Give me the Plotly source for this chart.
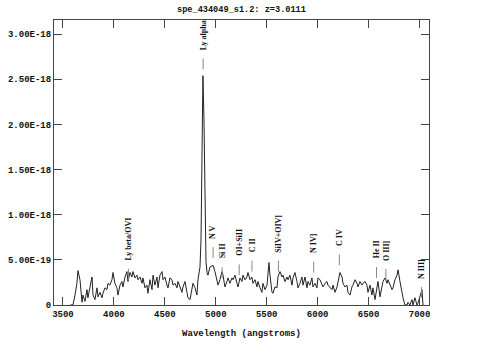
import plotly.graph_objects as go

# ---- data (flux in units of 1e-19 erg/s/cm2/A) ----
wavelength = [3569, 3598, 3618, 3637, 3647, 3667, 3687, 3696, 3716, 3736, 3745, 3765, 3785, 3795, 3814, 3834, 3844, 3863, 3883, 3893,
              3912, 3932, 3942, 3961, 3981, 3991, 4010, 4030, 4040, 4060, 4079, 4089, 4109, 4128, 4138, 4158, 4177, 4187, 4207, 4226,
              4236, 4256, 4276, 4285, 4305, 4325, 4334, 4354, 4374, 4384, 4403, 4423, 4433, 4452, 4472, 4482, 4501, 4521, 4531, 4550,
              4570, 4580, 4600, 4619, 4629, 4649, 4668, 4678, 4698, 4717, 4727, 4747, 4766, 4776, 4796, 4815, 4825, 4845, 4855, 4865,
              4874, 4884, 4894, 4904, 4914, 4923, 4943, 4963, 4973, 4992, 5012, 5022, 5041, 5061, 5071, 5090, 5110, 5120, 5139, 5159,
              5169, 5189, 5208, 5218, 5238, 5257, 5267, 5287, 5306, 5316, 5336, 5355, 5365, 5385, 5404, 5414, 5434, 5453, 5463, 5483,
              5503, 5522, 5532, 5552, 5562, 5581, 5601, 5610, 5630, 5650, 5660, 5679, 5699, 5709, 5728, 5748, 5758, 5777, 5797, 5807,
              5826, 5846, 5856, 5876, 5895, 5905, 5924, 5944, 5954, 5974, 5993, 6003, 6023, 6042, 6052, 6072, 6092, 6101, 6121, 6141,
              6151, 6170, 6190, 6200, 6219, 6239, 6249, 6268, 6288, 6298, 6317, 6337, 6347, 6367, 6386, 6396, 6415, 6435, 6445, 6465,
              6484, 6494, 6514, 6533, 6543, 6563, 6583, 6592, 6612, 6632, 6641, 6661, 6681, 6690, 6710, 6730, 6740, 6759, 6779, 6789,
              6808, 6828, 6838, 6857, 6877, 6887, 6906, 6926, 6936, 6955, 6975, 6985, 7005, 7024, 7034]
flux_e19 = [0, 0, 1.1, 2.4, 3.8, 2.8, 0.3, 1.1, 0.4, 1.7, 0.8, 2.0, 3.1, 1.1, 0.6, 1.9, 0.9, 1.4, 0.8, 1.3,
            1.9, 1.7, 2.4, 2.2, 2.8, 3.6, 2.4, 1.9, 1.1, 2.2, 2.6, 2.0, 3.1, 3.7, 2.6, 3.6, 3.1, 3.7, 3.0, 3.3,
            2.8, 3.1, 2.4, 3.0, 1.9, 2.2, 1.3, 2.8, 1.7, 3.3, 2.2, 3.1, 1.9, 3.3, 3.7, 2.8, 3.1, 2.2, 1.9, 3.0,
            2.8, 2.2, 2.4, 1.9, 2.6, 2.0, 1.4, 2.0, 2.6, 1.4, 0.8, 0.6, 1.7, 2.4, 1.9, 1.1, 2.8, 4.2, 7.2, 17.2,
            25.4, 20.6, 8.3, 4.8, 3.6, 3.3, 4.2, 4.4, 4.4, 3.7, 2.8, 2.2, 2.8, 3.7, 3.3, 2.0, 2.6, 3.0, 2.4, 3.0,
            2.8, 3.3, 2.4, 2.0, 3.0, 2.6, 3.3, 2.8, 3.1, 3.6, 2.8, 3.1, 2.4, 2.8, 2.0, 2.6, 1.9, 1.4, 2.4, 1.7,
            2.2, 4.7, 3.3, 1.4, 1.3, 2.0, 1.9, 3.1, 3.7, 3.1, 3.3, 2.6, 3.1, 2.8, 3.3, 2.2, 3.0, 3.6, 2.6, 1.9,
            2.4, 3.1, 2.2, 3.1, 1.9, 2.6, 2.2, 3.0, 2.0, 2.4, 1.9, 3.0, 2.8, 2.2, 2.0, 2.4, 2.6, 2.2, 2.0, 1.7,
            2.2, 1.4, 2.0, 2.6, 3.6, 3.1, 2.4, 2.0, 2.2, 1.4, 1.1, 2.0, 2.2, 2.8, 2.4, 2.0, 2.6, 2.2, 2.4, 2.6,
            2.2, 1.4, 2.2, 1.1, 1.9, 0.6, 1.9, 2.6, 0.9, 2.2, 2.6, 3.0, 2.4, 2.8, 2.2, 1.7, 1.9, 2.8, 3.3, 3.9,
            2.6, 1.3, 0.8, 0, 0, 0.3, 0, 0.6, 0, 0.8, 0, 0.2, 0.9, 1.7, 0]

line_names = ["Ly beta/OVI", "Ly alpha", "N V", "Si II", "OI+SiII", "C II", "SiIV+OIV]",
              "N IV]", "C IV", "He II", "O III]", "N III]"]
line_wavelength = [4143, 4876, 4974, 5062, 5230, 5355, 5615, 5961, 6213, 6578, 6670, 7019]
line_level_e19 = [2.8, 26.1, 5.2, 3.0, 3.3, 3.7, 3.7, 3.6, 4.4, 3.0, 2.8, 0.8]

title = "spe_434049_s1.2: z=3.0111"
x_label = "Wavelength (angstroms)"
x_ticks = [3500, 4000, 4500, 5000, 5500, 6000, 6500, 7000]
y_ticks = [0, 5e-19, 1e-18, 1.5e-18, 2e-18, 2.5e-18, 3e-18]
y_tick_text = ["0", "5.00E-19", "1.00E-18", "1.50E-18", "2.00E-18", "2.50E-18", "3.00E-18"]

SCALE = 1e-19
TICK_LEN = 1.2   # in 1e-19 units
TEXT_GAP = 0.7

flux = [v * SCALE for v in flux_e19]

mono = "Liberation Mono"
fig = go.Figure()
fig.add_trace(go.Scatter(x=wavelength, y=flux, mode="lines",
                         line=dict(color="#222222", width=1), hoverinfo="skip"))

# line marker ticks
tx, ty = [], []
for w, lv in zip(line_wavelength, line_level_e19):
    tx += [w, w, None]
    ty += [lv * SCALE, (lv + TICK_LEN) * SCALE, None]
fig.add_trace(go.Scatter(x=tx, y=ty, mode="lines",
                         line=dict(color="#888888", width=1), hoverinfo="skip"))

for name, w, lv in zip(line_names, line_wavelength, line_level_e19):
    fig.add_annotation(x=w, y=(lv + TICK_LEN + TEXT_GAP) * SCALE, xref="x", yref="y",
                       text="<b>" + name + "</b>", showarrow=False, textangle=-90,
                       xanchor="center", yanchor="bottom",
                       font=dict(family="Liberation Serif", size=8, color="#111111"))

fig.add_annotation(x=0.5, y=1, xref="paper", yref="paper", yshift=10,
                   text="<b>" + title + "</b>", showarrow=False,
                   xanchor="center", yanchor="middle",
                   font=dict(family=mono, size=8.6, color="#111111"))

axis_common = dict(showgrid=False, zeroline=False, showline=True, linecolor="#444444",
                   linewidth=1, mirror="ticks", ticks="inside", ticklen=8,
                   tickcolor="#444444", tickwidth=1, automargin=False,
                   tickfont=dict(family=mono, size=9, color="#111111"))

fig.update_xaxes(range=[3412, 7093], tickvals=x_ticks,
                 ticktext=["<b>%d</b>" % v for v in x_ticks],
                 title=dict(text="<b>" + x_label + "</b>", standoff=10,
                            font=dict(family=mono, size=9, color="#111111")),
                 **axis_common)
fig.update_yaxes(range=[0, 3.156e-18], tickvals=y_ticks,
                 ticktext=["<b>" + t + "</b>" for t in y_tick_text],
                 **axis_common)

fig.update_layout(width=483, height=358, showlegend=False,
                  margin=dict(l=54, r=54, t=20, b=53),
                  paper_bgcolor="white", plot_bgcolor="white")
# remove the default 8px page margin so the figure fills the window exactly
fig.write_html("out.html", config={"displayModeBar": False},
               post_script="document.body.style.margin='0px';")
